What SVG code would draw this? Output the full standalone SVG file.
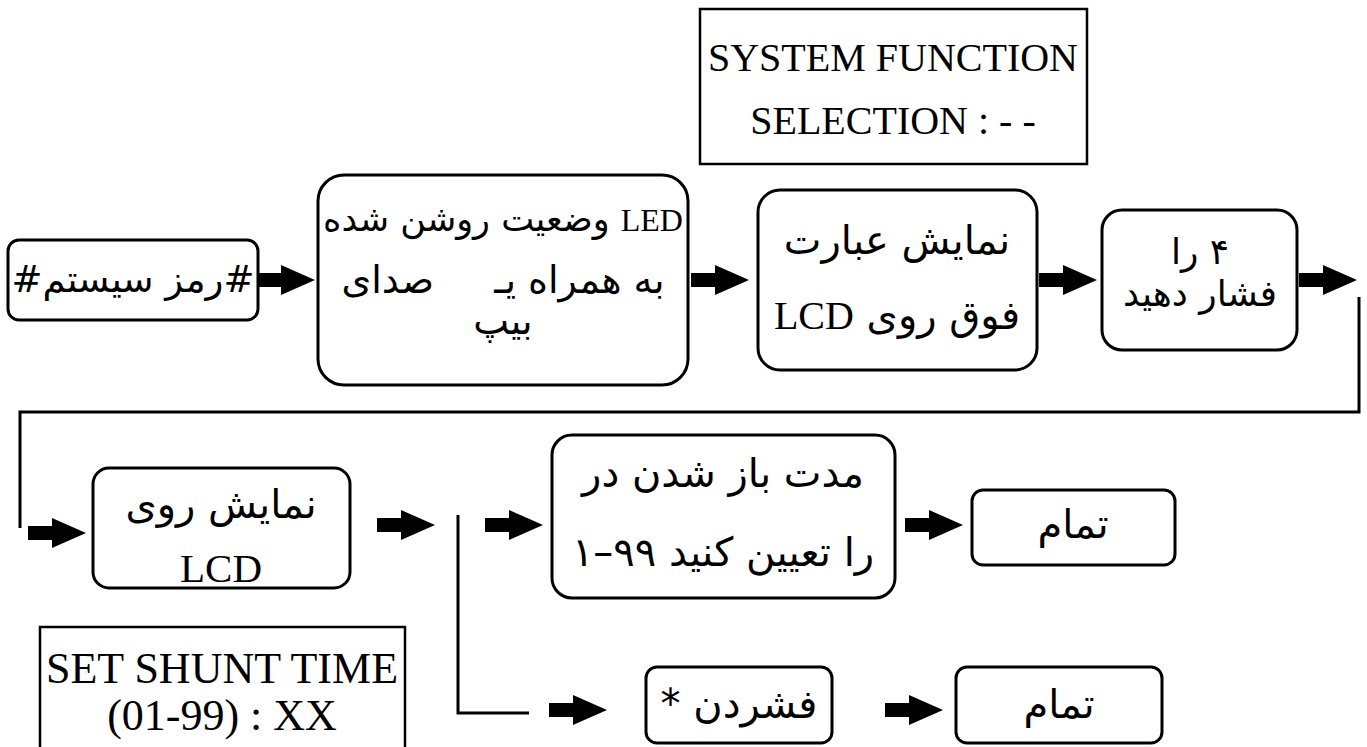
<svg xmlns="http://www.w3.org/2000/svg" width="1367" height="747" viewBox="0 0 1367 747">
<style>
.box{fill:#fff;stroke:#000;stroke-width:3}
.sq{fill:#fff;stroke:#000;stroke-width:2.5}
.ln{fill:none;stroke:#000;stroke-width:3}
.fa{font-family:"DejaVu Sans",sans-serif;fill:#000;text-anchor:middle;direction:rtl;unicode-bidi:embed}
.en{font-family:"Liberation Serif",serif;fill:#000}
.lat{font-family:"Liberation Serif",serif;fill:#000;text-anchor:middle}
</style>
<defs>
<path id="arr" d="M-58,-7 H-34 V-15 L0,0 L-34,15 V7 H-58 Z" fill="#000"/>
</defs>
<g id="connectors">
<use href="#arr" x="315" y="280"/>
<use href="#arr" x="749" y="280"/>
<use href="#arr" x="1097" y="280"/>
<use href="#arr" x="1357" y="280"/>
<polyline class="ln" points="1359,297 1359,412 20,412 20,528"/>
<use href="#arr" x="86" y="533"/>
<use href="#arr" x="435" y="525"/>
<polyline class="ln" points="458,515 458,713 529,713"/>
<use href="#arr" x="543" y="525"/>
<use href="#arr" x="963" y="525"/>
<use href="#arr" x="607" y="710"/>
<use href="#arr" x="943" y="710"/>
</g>
<g id="lcd-system">
<rect class="sq" x="700" y="9" width="387" height="155"/>
<text class="lat" x="893" y="71" font-size="40">SYSTEM FUNCTION</text>
<text class="lat" x="893" y="134" font-size="40">SELECTION : - -</text>
</g>
<g id="n1">
<rect class="box" x="8" y="240" width="250" height="80" rx="11"/>
<text class="fa" x="133" y="292" font-size="37">#رمز سیستم#</text>
</g>
<g id="n2">
<rect class="box" x="318" y="175" width="370" height="210" rx="26"/>
<text class="fa" x="503" y="231" font-size="35"><tspan class="en" font-size="32">LED</tspan> وضعیت روشن شده</text>
<text class="fa" x="503" y="293" font-size="38">به همراه یـ&#160;&#160;&#160;&#160; صدای</text>
<text class="fa" x="503" y="334" font-size="38">بیپ</text>
</g>
<g id="n3">
<rect class="box" x="758" y="190" width="279" height="180" rx="22"/>
<text class="fa" x="897" y="254" font-size="40">نمایش عبارت</text>
<text class="fa" x="897" y="329" font-size="40">فوق روی <tspan class="en" font-size="40">LCD</tspan></text>
</g>
<g id="n4">
<rect class="box" x="1102" y="210" width="195" height="140" rx="20"/>
<text class="fa" x="1200" y="264" font-size="36">۴ را</text>
<text class="fa" x="1200" y="306" font-size="36">فشار دهید</text>
</g>
<g id="n5">
<rect class="box" x="93" y="468" width="257" height="120" rx="16"/>
<text class="fa" x="221" y="518" font-size="40">نمایش روی</text>
<text class="lat" x="221" y="582" font-size="41">LCD</text>
</g>
<g id="n6">
<rect class="box" x="552" y="435" width="343" height="163" rx="20"/>
<text class="fa" x="723" y="487" font-size="40">مدت باز شدن در</text>
<text class="fa" x="723" y="566" font-size="40">را تعیین کنید ۹۹–۱</text>
</g>
<g id="n7">
<rect class="box" x="972" y="490" width="203" height="75" rx="11"/>
<text class="fa" x="1073" y="538" font-size="40">تمام</text>
</g>
<g id="lcd-shunt">
<rect class="sq" x="40" y="627" width="365" height="130"/>
<text class="lat" x="222" y="683" font-size="44">SET SHUNT TIME</text>
<text class="lat" x="222" y="730" font-size="44">(01-99) : XX</text>
</g>
<g id="n8">
<rect class="box" x="646" y="667" width="186" height="76" rx="11"/>
<text class="fa" x="739" y="718" font-size="40">فشردن *</text>
</g>
<g id="n9">
<rect class="box" x="956" y="667" width="206" height="76" rx="11"/>
<text class="fa" x="1059" y="718" font-size="40">تمام</text>
</g>
</svg>
